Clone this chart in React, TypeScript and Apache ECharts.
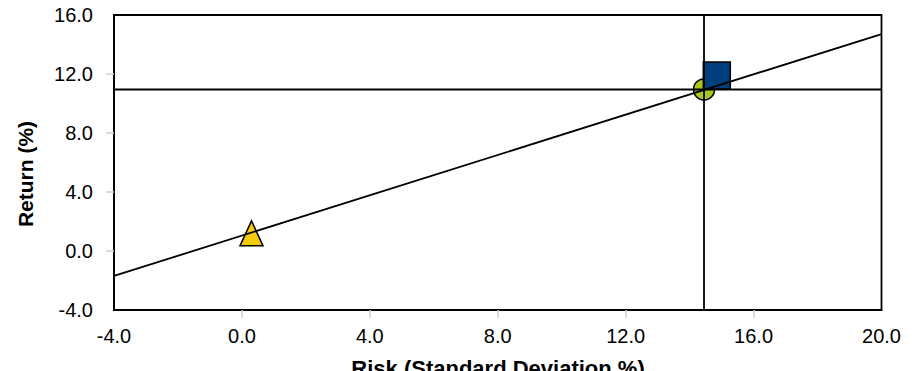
import React, { useEffect, useRef } from "react";
import * as echarts from "echarts";

const xTicks = [-4, 0, 4, 8, 12, 16, 20];
const yTicks = [-4, 0, 4, 8, 12, 16];
const riskFree: number[][] = [[0.3, 1.2]];
const tangency: number[][] = [[14.45, 10.95]];
const portfolio: number[][] = [[14.85, 11.9]];
const cmlLine: number[][] = [[-4, -1.69], [20, 14.71]];
const vLine: number[][] = [[14.45, -4], [14.45, 16]];
const hLine: number[][] = [[-4, 10.95], [20, 10.95]];
const xTitle = "Risk (Standard Deviation %)";
const yTitle = "Return (%)";

const FONT = "'Liberation Sans', Arial, sans-serif";

export default function App() {
  const ref = useRef<HTMLDivElement>(null);
  useEffect(() => {
    if (!ref.current) return;
    const chart = echarts.init(ref.current, undefined, { renderer: "svg" });
    const fmt = (v: number) => v.toFixed(1);
    const lineStyle = { color: "#000", width: 1.8 };
    chart.setOption({
      animation: false,
      backgroundColor: "#fff",
      textStyle: { fontFamily: FONT },
      grid: {
        left: 114,
        right: 39.5,
        top: 15,
        bottom: 61,
        show: true,
        borderColor: "#000",
        borderWidth: 1.8,
        backgroundColor: "transparent",
      },
      xAxis: {
        type: "value",
        min: xTicks[0],
        max: xTicks[xTicks.length - 1],
        interval: 4,
        splitLine: { show: false },
        axisLine: { show: true, onZero: false, lineStyle: { color: "#000", width: 1.8 } },
        axisTick: {
          show: true,
          length: 8,
          lineStyle: { color: "#d0d0d0", width: 1.5 },
          customValues: xTicks.slice(1, -1),
        },
        axisLabel: {
          margin: 16,
          fontSize: 20,
          color: "#000",
          fontFamily: FONT,
          formatter: fmt,
          customValues: xTicks,
        },
      },
      yAxis: {
        type: "value",
        min: yTicks[0],
        max: yTicks[yTicks.length - 1],
        interval: 4,
        splitLine: { show: false },
        axisLine: { show: true, onZero: false, lineStyle: { color: "#000", width: 1.8 } },
        axisTick: {
          show: true,
          length: 8,
          lineStyle: { color: "#d0d0d0", width: 1.5 },
          customValues: yTicks.slice(1, -1),
        },
        axisLabel: {
          margin: 21,
          fontSize: 20,
          color: "#000",
          fontFamily: FONT,
          formatter: fmt,
          customValues: yTicks,
        },
      },
      graphic: [
        {
          type: "text",
          x: 25.5,
          y: 174,
          rotation: Math.PI / 2,
          style: {
            text: yTitle,
            font: `bold 21px ${FONT}`,
            fill: "#000",
            align: "center",
            verticalAlign: "middle",
          },
        },
        {
          type: "text",
          x: 498,
          y: 357,
          style: {
            text: xTitle,
            font: `bold 22px ${FONT}`,
            fill: "#000",
            align: "center",
            verticalAlign: "top",
          },
        },
      ],
      series: [
        {
          type: "scatter",
          data: riskFree,
          symbol: "triangle",
          symbolSize: [23, 25],
          itemStyle: { color: "#F2CC0C", borderColor: "#000", borderWidth: 1.5, opacity: 1 },
          z: 2,
        },
        {
          type: "scatter",
          data: tangency,
          symbol: "circle",
          symbolSize: 21,
          itemStyle: { color: "#A8C81E", borderColor: "#000", borderWidth: 1.5, opacity: 1 },
          z: 2,
        },
        {
          type: "scatter",
          data: portfolio,
          symbol: "rect",
          symbolSize: 27,
          itemStyle: { color: "#003F7D", borderColor: "#000", borderWidth: 1.5, opacity: 1 },
          z: 3,
        },
        {
          type: "line",
          data: cmlLine,
          symbol: "none",
          lineStyle,
          z: 5,
        },
        {
          type: "line",
          data: vLine,
          symbol: "none",
          lineStyle,
          z: 5,
        },
        {
          type: "line",
          data: hLine,
          symbol: "none",
          lineStyle,
          z: 5,
        },
      ],
    });
    return () => chart.dispose();
  }, []);
  return (
    <div
      ref={ref}
      style={{ position: "fixed", left: 0, top: 0, width: 921, height: 371 }}
    />
  );
}
